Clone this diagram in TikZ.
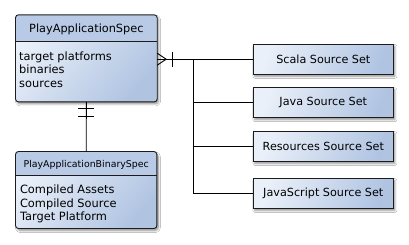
\documentclass[tikz,border=0pt]{standalone}
\usepackage{fontspec}
\setmainfont{DejaVu Sans}
\usetikzlibrary{shadows.blur}

\definecolor{hdrblue}{HTML}{B8CAE5}
\definecolor{paleblue}{HTML}{EAF0F9}
\definecolor{deepblue}{HTML}{B0C4E2}
\definecolor{edgegrey}{HTML}{1C1C1C}

\tikzset{
  softshadow/.style={blur shadow={shadow xshift=1.6pt, shadow yshift=-2.2pt,
      shadow blur steps=6, shadow blur radius=2pt, shadow opacity=45}},
  entity/.style={rectangle, rounded corners=3pt, inner sep=0pt, draw=none,
      top color=paleblue, bottom color=deepblue, shading angle=50, softshadow},
  outline/.style={draw=edgegrey, line width=0.9pt},
  sourceset/.style={rectangle, inner sep=0pt, draw=edgegrey, line width=0.9pt,
      minimum width=140pt, minimum height=29.7pt,
      top color=paleblue, bottom color=deepblue, shading angle=70, softshadow,
      font=\fontsize{11.2}{13}\selectfont},
  conn/.style={draw=black, line width=0.9pt},
  title/.style={anchor=base, inner sep=0pt, font=\fontsize{11.3}{13}\selectfont},
  smalltitle/.style={anchor=base, inner sep=0pt, font=\fontsize{9.4}{11}\selectfont},
  attr/.style={anchor=base west, inner sep=0pt, font=\fontsize{11.4}{13}\selectfont},
}

\begin{document}
\begin{tikzpicture}[x=1pt, y=-1pt]
  \fill[white] (0,0) rectangle (409,244);
  \useasboundingbox (0,0) rectangle (409,244);

  % ---- PlayApplicationSpec entity ----
  \node[entity, minimum width=141.3pt, minimum height=86.7pt] (spec) at (86.35,58.35) {};
  \coordinate (specdiv) at (0,41.7);
  \begin{scope}
    \clip[rounded corners=3pt] (spec.north west) rectangle (spec.south east);
    \fill[hdrblue] (spec.north west) rectangle (spec.east |- specdiv);
  \end{scope}
  \draw[outline, rounded corners=3pt] (spec.north west) rectangle (spec.south east);
  \draw[outline] (spec.west |- specdiv) -- (spec.east |- specdiv);
  \node[title] (specname) at (86.35,32.4) {PlayApplicationSpec};
  \node[attr] (specattra) at (19,60.2) {target platforms};
  \node[attr] (specattrb) at (19,73.9) {binaries};
  \node[attr] (specattrc) at (19,87.6) {sources};

  % ---- PlayApplicationBinarySpec entity ----
  \node[entity, minimum width=141pt, minimum height=76.6pt] (binspec) at (86.2,190) {};
  \coordinate (bindiv) at (0,175.7);
  \begin{scope}
    \clip[rounded corners=3pt] (binspec.north west) rectangle (binspec.south east);
    \fill[hdrblue] (binspec.north west) rectangle (binspec.east |- bindiv);
  \end{scope}
  \draw[outline, rounded corners=3pt] (binspec.north west) rectangle (binspec.south east);
  \draw[outline] (binspec.west |- bindiv) -- (binspec.east |- bindiv);
  \node[smalltitle] (binname) at (86.2,167) {PlayApplicationBinarySpec};
  \node[attr] (binattra) at (19.8,193.3) {Compiled Assets};
  \node[attr] (binattrb) at (19.8,207.1) {Compiled Source};
  \node[attr] (binattrc) at (19.8,220.8) {Target Platform};

  % ---- source sets ----
  \node[sourceset] (scala) at (323.3,59.2) {Scala Source Set};
  \node[sourceset] (java) at (323.3,102.5) {Java Source Set};
  \node[sourceset] (resources) at (323.3,146.3) {Resources Source Set};
  \node[sourceset] (javascript) at (323.3,193.3) {JavaScript Source Set};

  % ---- spec to source sets: many-to-one with a shared trunk ----
  \coordinate (cf) at (spec.east |- scala.west);
  \coordinate (fork) at (193.3,0);
  \draw[conn] (cf) -- (scala.west);
  \draw[conn] (cf) ++(0,-6) -- ++(9,6) -- ++(-9,6);
  \draw[conn] (cf) ++(15,-7.5) -- ++(0,15);
  \draw[conn] (fork |- scala.west) |- (javascript.west);
  \draw[conn] (fork |- java.west) -- (java.west);
  \draw[conn] (fork |- resources.west) -- (resources.west);

  % ---- spec to binary spec: exactly one ----
  \coordinate (sb) at (spec.south);
  \draw[conn] (spec.south) -- (binspec.north);
  \draw[conn] (sb) ++(-8,7) -- ++(16,0);
  \draw[conn] (sb) ++(-8,14.5) -- ++(16,0);
\end{tikzpicture}
\end{document}
